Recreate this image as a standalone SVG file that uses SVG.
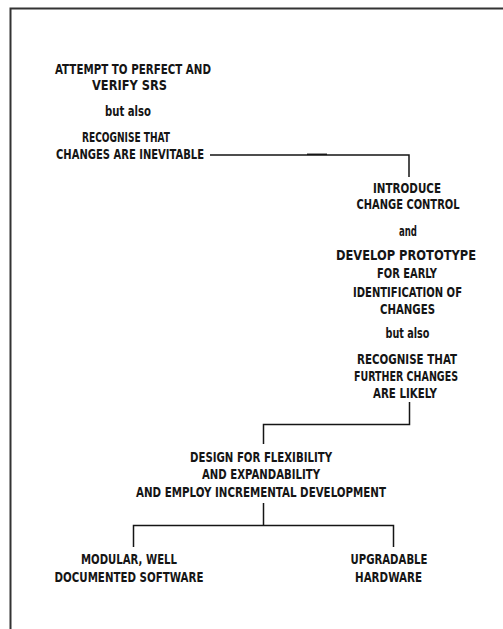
<svg xmlns="http://www.w3.org/2000/svg" width="503" height="629" viewBox="0 0 503 629">
  <style>
    text { font-family: "Liberation Sans Narrow", "DejaVu Sans Condensed", "Liberation Sans", sans-serif; font-weight: bold; font-size: 13.5px; fill: #151515; text-anchor: middle; }
    .frame { stroke: #333; stroke-width: 2; fill: none; }
    .link { stroke: #151515; stroke-width: 1.5; fill: none; }
  </style>
  <rect width="503" height="629" fill="#fff"/>

  <!-- page frame: top and left rule only -->
  <path class="frame" d="M10.5,629 V8.5 H503"/>

  <g id="connectors">
    <path class="link" d="M210,155 H409 V177"/>
    <path class="link" d="M307,154.3 H327" stroke-width="1.9"/>
    <path class="link" d="M409.5,402 V424.5 H263.5 V444"/>
    <path class="link" d="M263.5,503 V525.5"/>
    <path class="link" d="M133.5,547 V525.5 H393.5 V547"/>
  </g>

  <g id="node-srs">
    <text x="133" y="74" textLength="156" lengthAdjust="spacingAndGlyphs">ATTEMPT TO PERFECT AND</text>
    <text x="129.5" y="90" textLength="75" lengthAdjust="spacingAndGlyphs">VERIFY SRS</text>
    <text x="128" y="116" textLength="46" lengthAdjust="spacingAndGlyphs">but also</text>
    <text x="126" y="141.5" textLength="88" lengthAdjust="spacingAndGlyphs">RECOGNISE THAT</text>
    <text x="130" y="159" textLength="148" lengthAdjust="spacingAndGlyphs">CHANGES ARE INEVITABLE</text>
  </g>

  <g id="node-change-control">
    <text x="407" y="193" textLength="68" lengthAdjust="spacingAndGlyphs">INTRODUCE</text>
    <text x="408" y="209" textLength="103" lengthAdjust="spacingAndGlyphs">CHANGE CONTROL</text>
    <text x="408" y="236" textLength="18" lengthAdjust="spacingAndGlyphs">and</text>
    <text x="406" y="260" textLength="140" lengthAdjust="spacingAndGlyphs">DEVELOP PROTOTYPE</text>
    <text x="407" y="278" textLength="60" lengthAdjust="spacingAndGlyphs">FOR EARLY</text>
    <text x="407.5" y="297" textLength="109" lengthAdjust="spacingAndGlyphs">IDENTIFICATION OF</text>
    <text x="407.5" y="314" textLength="55" lengthAdjust="spacingAndGlyphs">CHANGES</text>
    <text x="407.5" y="338" textLength="44" lengthAdjust="spacingAndGlyphs">but also</text>
    <text x="407" y="364" textLength="100" lengthAdjust="spacingAndGlyphs">RECOGNISE THAT</text>
    <text x="406" y="381" textLength="104" lengthAdjust="spacingAndGlyphs">FURTHER CHANGES</text>
    <text x="405" y="398" textLength="64" lengthAdjust="spacingAndGlyphs">ARE LIKELY</text>
  </g>

  <g id="node-design">
    <text x="261" y="462" textLength="142" lengthAdjust="spacingAndGlyphs">DESIGN FOR FLEXIBILITY</text>
    <text x="261" y="479" textLength="118" lengthAdjust="spacingAndGlyphs">AND EXPANDABILITY</text>
    <text x="261" y="497" textLength="250" lengthAdjust="spacingAndGlyphs">AND EMPLOY INCREMENTAL DEVELOPMENT</text>
  </g>

  <g id="node-software">
    <text x="129" y="564" textLength="96" lengthAdjust="spacingAndGlyphs">MODULAR, WELL</text>
    <text x="129" y="582" textLength="149" lengthAdjust="spacingAndGlyphs">DOCUMENTED SOFTWARE</text>
  </g>

  <g id="node-hardware">
    <text x="389" y="564" textLength="77" lengthAdjust="spacingAndGlyphs">UPGRADABLE</text>
    <text x="388.5" y="582" textLength="67" lengthAdjust="spacingAndGlyphs">HARDWARE</text>
  </g>
</svg>
